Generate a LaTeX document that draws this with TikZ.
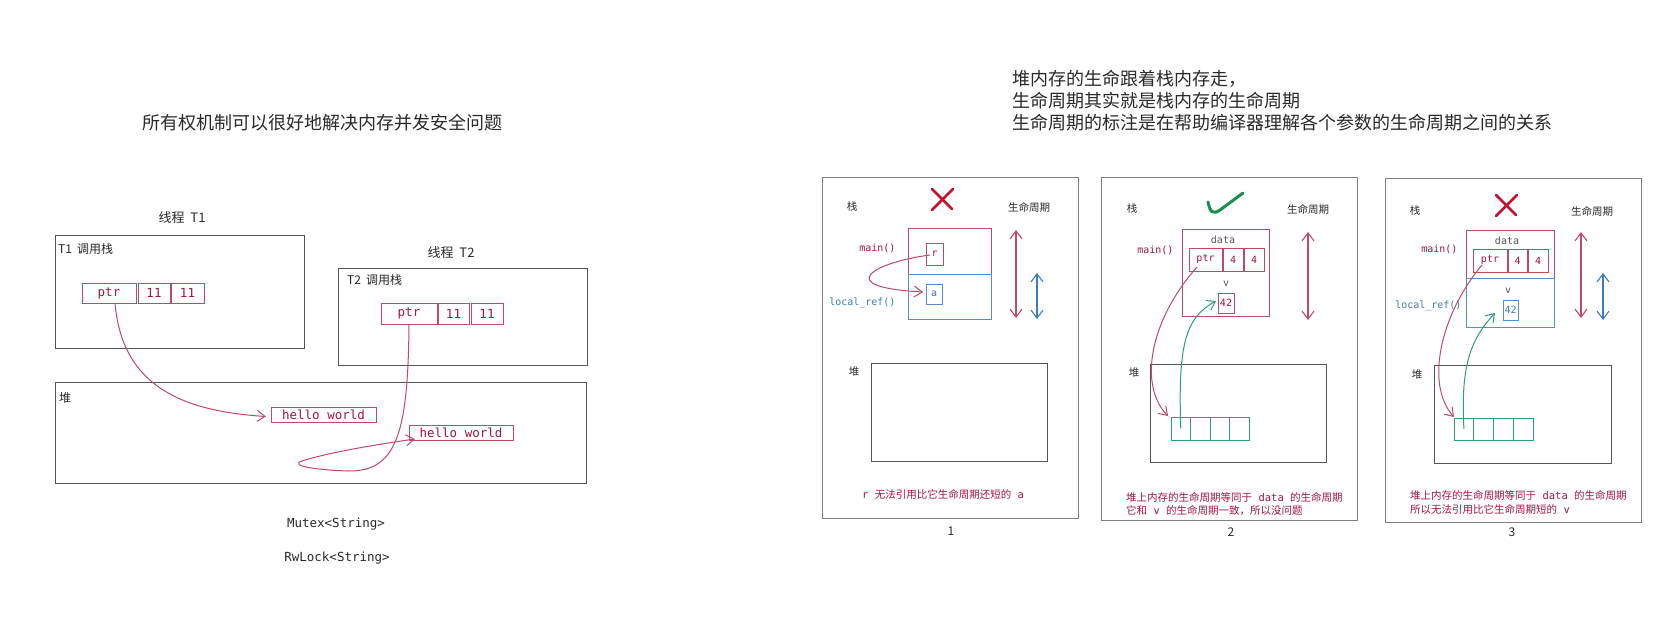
\documentclass[tikz,border=0pt]{standalone}
\usepackage{fontspec}
\usetikzlibrary{arrows.meta,calc}
\newfontfamily\cjk{Noto Sans CJK SC}
\newfontfamily\mono{DejaVu Sans Mono}
\definecolor{crim}{HTML}{A3163F}
\definecolor{crimline}{HTML}{BE4A66}
\definecolor{blu}{HTML}{3C7BBE}
\definecolor{grn}{HTML}{2E9E7E}
\definecolor{chk}{HTML}{1A8C4C}
\definecolor{xred}{HTML}{C8102E}
\definecolor{frm}{HTML}{555555}
\definecolor{txt}{HTML}{2A2A2A}
\newcommand{\rectnode}[7][]{\node[#1, anchor=north west, minimum width={(#5)-(#3)}, minimum height={(#6)-(#4)}] (#2) at (#3,#4) {#7};}
\tikzset{
  basebox/.style={inner sep=0pt, outer sep=0pt},
  frame/.style={basebox, draw=frm, line width=0.9pt},
  pframe/.style={basebox, draw=frm!75, line width=0.8pt},
  rbox/.style={basebox, draw=crimline, line width=0.9pt},
  bbox/.style={basebox, draw=blu!85, line width=0.9pt},
  gbox/.style={basebox, draw=grn, line width=0.9pt},
  titlefont/.style={font=\cjk\fontsize{18}{22}\selectfont, text=txt, inner sep=0pt},
  lcjk/.style={font=\cjk\fontsize{12}{14}\selectfont, text=txt, inner sep=0pt},
  scjk/.style={font=\cjk\fontsize{10.5}{12}\selectfont, text=txt, inner sep=0pt},
  lcode/.style={font=\mono\fontsize{12.5}{15}\selectfont, text=crim},
  scode/.style={font=\mono\fontsize{10}{12}\selectfont, text=crim},
  blackcode/.style={font=\mono\fontsize{12.5}{15}\selectfont, text=txt, inner sep=0pt},
  numlbl/.style={font=\cjk\fontsize{12}{14}\selectfont, text=txt, inner sep=0pt},
  rarrow/.style={draw=crimline, line width=1pt, -{Straight Barb[length=8pt,width=11pt]}},
  garrow/.style={draw=grn, line width=1pt, -{Straight Barb[length=8pt,width=11pt]}},
  life/.style={line width=1.1pt, {Straight Barb[length=8pt,width=12pt]}-{Straight Barb[length=8pt,width=12pt]}},
  xmark/.style={draw=xred, line width=2.6pt, line cap=round},
}
\begin{document}
\begin{tikzpicture}[x=1pt,y=-1pt]
\useasboundingbox[fill=white] (0,0) rectangle (1653,623);

% ---------------- left part ----------------
\node[titlefont] (title) at (322,123) {所有权机制可以很好地解决内存并发安全问题};

\node[lcjk, font=\cjk\fontsize{13}{15}\selectfont] (t1title) at (182,218) {线程\hspace{6pt}T1};
\rectnode[frame]{t1}{55}{235}{304}{348}{}
\node[lcjk, anchor=west] (t1lbl) at (58,249) {T1\hspace{5pt}调用栈};
\rectnode[rbox,lcode]{p1}{82}{283}{136}{303}{ptr}
\rectnode[rbox,lcode]{c1a}{138}{283}{170}{303}{11}
\rectnode[rbox,lcode]{c1b}{171}{283}{204}{303}{11}

\node[lcjk, font=\cjk\fontsize{13}{15}\selectfont] (t2title) at (451,253) {线程\hspace{6pt}T2};
\rectnode[frame]{t2}{338}{268}{587}{365}{}
\node[lcjk, anchor=west] (t2lbl) at (347,280) {T2\hspace{5pt}调用栈};
\rectnode[rbox,lcode]{p2}{381}{303}{437}{324}{ptr}
\rectnode[rbox,lcode]{c2a}{438}{303}{469}{324}{11}
\rectnode[rbox,lcode]{c2b}{471}{303}{503}{324}{11}

\rectnode[frame]{heap}{55}{382}{586}{483}{}
\node[lcjk, anchor=west] (heaplbl) at (59,398) {堆};
\rectnode[rbox,lcode]{hw1}{271}{407}{376}{422}{hello world}
\rectnode[rbox,lcode]{hw2}{409}{425}{513}{440}{hello world}

\draw[rarrow] ($(p1.south)+(6,0)$) .. controls (122,385) and (180,411) .. ($(hw1.west)+(-5,2)$);
\draw[rarrow] (p2.south) .. controls (408,430) and (398,472) .. (348,471)
   .. controls (318,470) and (288,466) .. (302,461)
   .. controls (330,452) and (380,444) .. ($(hw2.south west)+(6,-1)$);

\node[blackcode] (mutex) at (336,524) {Mutex<String>};
\node[blackcode] (rwlock) at (337,558) {RwLock<String>};

% ---------------- right header ----------------
\node[titlefont, anchor=west] (h1) at (1012,79) {堆内存的生命跟着栈内存走，};
\node[titlefont, anchor=west] (h2) at (1012,101) {生命周期其实就是栈内存的生命周期};
\node[titlefont, anchor=west] (h3) at (1012,123) {生命周期的标注是在帮助编译器理解各个参数的生命周期之间的关系};

% ---------------- panel 1 ----------------
\rectnode[pframe]{P1}{822}{177}{1078}{518}{}
\draw[xmark] (932,189) -- (952,209);
\draw[xmark] (953,189) -- (932,210);
\node[scjk] (p1stack) at (852,207) {栈};
\node[scjk] (p1life) at (1029,207) {生命周期};
\rectnode[rbox]{p1main}{908}{228}{991}{274}{}
\rectnode[bbox]{p1loc}{908}{274}{991}{319}{}
\node[scode, anchor=east] (p1mainl) at (899,248) {main()};
\node[scode, text=blu, anchor=east] (p1locl) at (899,303) {local\_ref()};
\rectnode[rbox,scode]{p1r}{926}{243}{943}{265}{r}
\rectnode[bbox,scode,text=blu]{p1a}{926}{284}{942}{304}{a}
\draw[rarrow] ($(p1r.west)+(4,1)$) .. controls (875,262) and (830,287) .. ($(p1a.west)+(-3,-2)$);
\coordinate (p1la) at (1016,230); \coordinate (p1lb) at (1016,318);
\draw[life, draw=crimline] (p1la) -- (p1lb);
\coordinate (p1ba) at (1037,273); \coordinate (p1bb) at (1037,319);
\draw[life, draw=blu] (p1ba) -- (p1bb);
\node[scjk] (p1heapl) at (854,372) {堆};
\rectnode[frame]{p1heap}{871}{363}{1047}{461}{}
\node[scjk, text=crim] (p1cap) at (943,494) {{\mono r\ }无法引用比它生命周期还短的{\mono\ a}};
\node[numlbl] (n1) at (951,531) {1};

% ---------------- panel 2 ----------------
\rectnode[pframe]{P2}{1101}{177}{1357}{520}{}
\draw[draw=chk, line width=3pt, line cap=round, line join=round] (1208,202) .. controls (1210,212) and (1213,215) .. (1220,210) -- (1243,193);
\node[scjk] (p2stack) at (1132,209) {栈};
\node[scjk] (p2life) at (1308,209) {生命周期};
\rectnode[rbox]{p2main}{1182}{229}{1269}{316}{}
\node[scode, text=txt!80] (p2data) at (1223,240) {data};
\node[scode, anchor=east] (p2mainl) at (1177,250) {main()};
\rectnode[rbox,scode]{p2ptr}{1189}{248}{1222}{271}{ptr}
\rectnode[rbox,scode]{p2c1}{1223}{248}{1243}{271}{4}
\rectnode[rbox,scode]{p2c2}{1244}{248}{1264}{271}{4}
\node[scode, text=txt!80] (p2v) at (1226,284) {v};
\rectnode[rbox,scode]{p2n}{1218}{293}{1234}{313}{42}
\coordinate (p2la) at (1308,232); \coordinate (p2lb) at (1308,320);
\draw[life, draw=crimline] (p2la) -- (p2lb);
\node[scjk] (p2heapl) at (1134,373) {堆};
\rectnode[frame]{p2heap}{1150}{364}{1326}{462}{}
\rectnode[gbox]{p2v1}{1171}{417}{1190.5}{440}{}
\rectnode[gbox]{p2v2}{1190.5}{417}{1210}{440}{}
\rectnode[gbox]{p2v3}{1210}{417}{1229.5}{440}{}
\rectnode[gbox]{p2v4}{1229.5}{417}{1249}{440}{}
\draw[rarrow] ($(p2ptr.south west)+(8,-4)$) .. controls (1150,320) and (1138,385) .. ($(p2v1.north west)+(-3,-1)$);
\draw[garrow] (p2v1.center) .. controls (1178,345) and (1185,318) .. ($(p2n.west)+(-2,-2)$);
\node[scjk, text=crim, anchor=west] (p2cap1) at (1126,497) {堆上内存的生命周期等同于{\mono\ data\ }的生命周期};
\node[scjk, text=crim, anchor=west] (p2cap2) at (1126,511) {它和{\mono\ v\ }的生命周期一致，所以没问题};
\node[numlbl] (n2) at (1231,532) {2};

% ---------------- panel 3 ----------------
\rectnode[pframe]{P3}{1385}{178}{1641}{522}{}
\draw[xmark] (1496,195) -- (1516,215);
\draw[xmark] (1517,195) -- (1496,216);
\node[scjk] (p3stack) at (1415,211) {栈};
\node[scjk] (p3life) at (1592,211) {生命周期};
\rectnode[rbox]{p3main}{1466}{230}{1554}{278}{}
\rectnode[bbox]{p3loc}{1466}{278}{1554}{327}{}
\node[scode, text=txt!80] (p3data) at (1507,241) {data};
\node[scode, anchor=east] (p3mainl) at (1461,249) {main()};
\node[scode, text=blu, anchor=east] (p3locl) at (1465,306) {local\_ref()};
\rectnode[rbox,scode]{p3ptr}{1473}{249}{1507}{272}{ptr}
\rectnode[rbox,scode]{p3c1}{1508}{249}{1527}{272}{4}
\rectnode[rbox,scode]{p3c2}{1528}{249}{1548}{272}{4}
\node[scode, text=txt!80] (p3v) at (1508,291) {v};
\rectnode[bbox,scode,text=blu]{p3n}{1503}{300}{1518}{320}{42}
\coordinate (p3la) at (1581,232); \coordinate (p3lb) at (1581,318);
\draw[life, draw=crimline] (p3la) -- (p3lb);
\coordinate (p3ba) at (1603,273); \coordinate (p3bb) at (1603,320);
\draw[life, draw=blu] (p3ba) -- (p3bb);
\node[scjk] (p3heapl) at (1417,375) {堆};
\rectnode[frame]{p3heap}{1434}{365}{1611}{463}{}
\rectnode[gbox]{p3v1}{1454}{418}{1473.75}{440}{}
\rectnode[gbox]{p3v2}{1473.75}{418}{1493.5}{440}{}
\rectnode[gbox]{p3v3}{1493.5}{418}{1513.25}{440}{}
\rectnode[gbox]{p3v4}{1513.25}{418}{1533}{440}{}
\draw[rarrow] ($(p3ptr.south west)+(9,-7)$) .. controls (1440,315) and (1425,385) .. ($(p3v1.north west)+(0,-1)$);
\draw[garrow] (p3v1.center) .. controls (1461,370) and (1468,342) .. ($(p3n.south west)+(-8,-7)$);
\node[scjk, text=crim, anchor=west] (p3cap1) at (1410,495) {堆上内存的生命周期等同于{\mono\ data\ }的生命周期};
\node[scjk, text=crim, anchor=west] (p3cap2) at (1410,509) {所以无法引用比它生命周期短的{\mono\ v}};
\node[numlbl] (n3) at (1512,532) {3};
\end{tikzpicture}
\end{document}
